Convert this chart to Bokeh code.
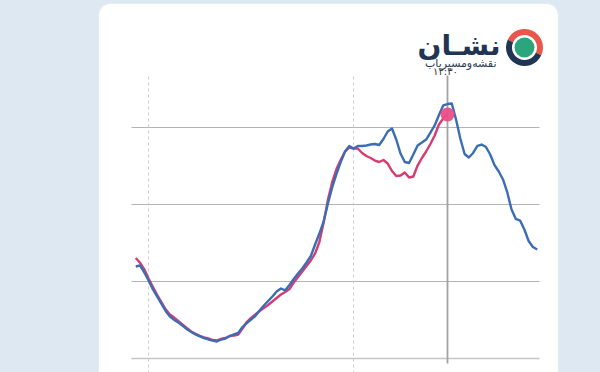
from bokeh.plotting import figure
from bokeh.models import BoxAnnotation, Label, Range1d
from bokeh.embed import file_html
from bokeh.resources import INLINE

# ---------------- data ----------------
start_hour = -5.75
step_hour = 0.25
now_hour = 12.5
now_label = "۱۲:۳۰"
marker_hours = [-5.0, 7.0]
grid_values = [0, 100, 200, 300]

blue_values = [119.5, 120.8, 111.7, 101.3, 90.1, 80.8, 71.4, 61.8, 54.5, 50.1,
               46.8, 42.3, 37.9, 34.4, 31.2, 28.8, 26.6, 24.7, 23.4, 22.1,
               24.7, 26.0, 29.2, 31.4, 33.1, 40.9, 46.1, 50.6, 55.2, 62.3,
               68.8, 74.7, 80.5, 87.0, 90.9, 88.6, 95.5, 103.2, 110.4, 116.9,
               124.7, 133.1, 148.1, 162.3, 177.9, 201.3, 222.1, 239.6, 255.2, 268.8,
               276.0, 272.7, 276.0, 276.0, 276.6, 277.9, 278.6, 277.3, 285.1, 294.8,
               298.7, 284.4, 266.2, 255.2, 253.9, 264.9, 276.6, 280.5, 284.4, 293.5,
               302.6, 316.2, 328.6, 330.5, 331.2, 310.4, 285.7, 265.6, 261.0, 266.9,
               276.0, 277.9, 274.7, 264.9, 251.3, 242.9, 232.5, 215.6, 193.5, 181.2,
               179.2, 167.5, 152.6, 144.8, 141.6]

red_values = [130.6, 124.4, 115.8, 103.9, 93.2, 82.7, 73.2, 63.9, 57.1, 53.2,
              48.4, 43.8, 39.4, 35.1, 32.0, 29.4, 27.3, 26.0, 24.0, 23.6,
              25.3, 26.6, 29.2, 29.9, 31.2, 39.0, 47.4, 52.6, 57.1, 61.7,
              65.6, 69.5, 74.0, 78.6, 83.1, 86.4, 90.3, 98.7, 105.8, 113.0,
              120.1, 127.3, 136.4, 151.3, 176.5, 206.0, 229.0, 246.0, 258.0, 268.5,
              274.0, 272.7, 272.7, 266.9, 263.0, 260.4, 257.1, 255.2, 257.8, 253.2,
              243.5, 237.0, 237.7, 241.6, 235.1, 236.4, 250.6, 260.4, 268.8, 278.6,
              289.6, 303.9, 311.7, 316.9]

blue_hours = [start_hour + step_hour * i for i in range(len(blue_values))]
red_hours = [start_hour + step_hour * i for i in range(len(red_values))]

# ---------------- layout helpers (page pixel -> data) ----------------
W, H = 600, 372
PX_PER_H = 17.083
PX_PER_V = 0.77
def px2x(px):
    return now_hour + (px - 447) / PX_PER_H
def py2y(py):
    return (358 - py) / PX_PER_V

BG = "#dde8f3"
p = figure(width=W, height=H, output_backend="svg", toolbar_location=None,
           x_axis_type=None, y_axis_type=None, min_border=0,
           x_range=Range1d(px2x(0), px2x(W)),
           y_range=Range1d(py2y(H), py2y(0)))
p.background_fill_color = BG
p.border_fill_color = BG
p.outline_line_color = None
p.grid.visible = False

# card
p.add_layout(BoxAnnotation(left=px2x(98), right=px2x(558), top=py2y(3), bottom=py2y(420),
                           fill_color="white", fill_alpha=1.0, line_color="#e4ebf3",
                           line_alpha=1.0, border_radius=12, level="underlay"))

# horizontal grid lines
gx0, gx1 = px2x(131), px2x(539)
p.segment(x0=[gx0] * 3, x1=[gx1] * 3, y0=grid_values[1:], y1=grid_values[1:],
          line_color="#b4b4b4", line_width=1)
p.segment(x0=[gx0], x1=[gx1], y0=grid_values[:1], y1=grid_values[:1],
          line_color="#c6c6c6", line_width=1.6)

# dashed marker lines
p.segment(x0=marker_hours, x1=marker_hours, y0=[py2y(76)] * 2, y1=[py2y(380)] * 2,
          line_color="#cdcdcd", line_width=1, line_dash="3 3")
# now line
p.segment(x0=[now_hour], x1=[now_hour], y0=[py2y(75)], y1=[py2y(363)],
          line_color="#a2a2a2", line_width=1.8)

# series
p.line(red_hours, red_values, line_color="#d43c72", line_width=2.4, line_join="round")
p.line(blue_hours, blue_values, line_color="#3b6db5", line_width=2.4, line_join="round")
p.scatter([red_hours[-1]], [red_values[-1]], size=14, fill_color="#e94f88",
          line_color=None, fill_alpha=0.95)

# logo
cx, cy = px2x(524), py2y(47)
p.annular_wedge(x=[cx], y=[cy], inner_radius=12.5, outer_radius=18.5,
                inner_radius_units="screen", outer_radius_units="screen",
                start_angle=-25, end_angle=155, start_angle_units="deg",
                end_angle_units="deg", fill_color="#e8564c", line_color=None)
p.annular_wedge(x=[cx], y=[cy], inner_radius=12.5, outer_radius=18.5,
                inner_radius_units="screen", outer_radius_units="screen",
                start_angle=155, end_angle=335, start_angle_units="deg",
                end_angle_units="deg", fill_color="#1f3553", line_color=None)
p.scatter([cx], [cy], size=20, fill_color="#2aa57c", line_color=None)

p.add_layout(Label(x=500, y=H - 45, x_units="screen", y_units="screen",
                   text="نشـان", text_font="DejaVu Sans", text_font_size="28px",
                   text_font_style="bold", text_color="#1f3553",
                   text_align="right", text_baseline="alphabetic"))
p.add_layout(Label(x=496, y=H - 63, x_units="screen", y_units="screen",
                   text="نقشه‌ومسیریاب", text_font="DejaVu Sans", text_font_size="11px",
                   text_color="#2a3d55", text_align="right", text_baseline="alphabetic"))
p.add_layout(Label(x=445, y=H - 71, x_units="screen", y_units="screen",
                   text=now_label, text_font="DejaVu Sans", text_font_size="10px",
                   text_color="#333333", text_align="center", text_baseline="alphabetic"))

html = file_html(p, INLINE)
html = html.replace("</head>", "<style>body{background:%s;}</style></head>" % BG, 1)
open("out.html", "w").write(html)
